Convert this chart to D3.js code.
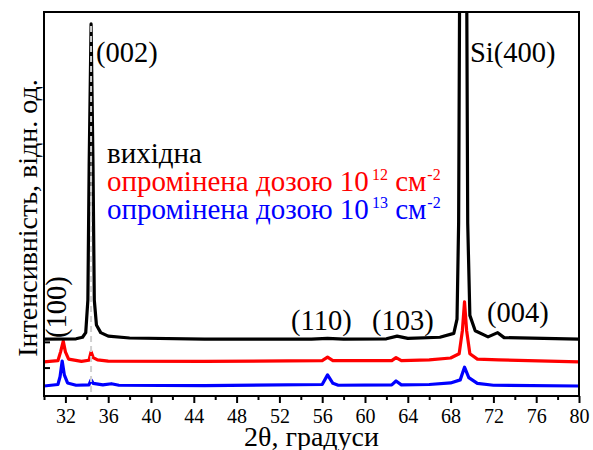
<!DOCTYPE html>
<html>
<head>
<meta charset="utf-8">
<script src="https://d3js.org/d3.v7.min.js"></script>
</head>
<body style="margin:0">
<script>
// 2theta positions and intensities (arb. units, with vertical offsets as plotted)
const blackX = [30, 33.0, 33.6, 33.9, 34.1, 34.22, 34.4, 34.58, 34.7, 34.9, 35.3, 36, 38, 45, 55, 56.5, 58, 62, 63, 64, 67, 68.3, 68.6, 68.75, 68.85, 69.2, 69.5, 69.6, 69.8, 70.3, 71.5, 72.4, 73, 80];
const blackY = [14.8, 14.9, 15.3, 16.5, 25, 60, 96.9, 60, 25, 18.5, 16.5, 15.6, 15.1, 14.8, 14.8, 15.0, 14.8, 14.9, 15.6, 15.0, 15.3, 16.3, 20, 45, 110, 300, 110, 45, 21, 17, 15.4, 16.5, 15.2, 14.8];

const redX = [30, 31.3, 31.55, 31.8, 32.0, 32.3, 33.5, 34.2, 34.4, 34.6, 35.0, 36, 45, 56, 56.5, 57, 62.5, 62.9, 63.4, 66, 68, 68.8, 69.1, 69.3, 69.5, 69.8, 70.5, 72.5, 80];
const redY = [8.9, 9.2, 11.5, 14.3, 11.5, 9.6, 9.0, 9.3, 11.5, 10.0, 9.4, 9.1, 9.0, 9.2, 10.1, 9.2, 9.2, 10.0, 9.2, 9.4, 9.9, 11, 17, 24.5, 17, 11, 9.6, 9.4, 8.9];

const blueX = [30, 31.3, 31.5, 31.7, 31.9, 32.2, 33, 34.2, 34.4, 34.6, 35.5, 36.3, 37, 45, 56, 56.5, 57, 57.5, 62.5, 62.9, 63.4, 66, 68, 68.9, 69.3, 69.7, 70.5, 72, 80];
const blueY = [2.6, 3.0, 5.0, 9.1, 5.5, 3.4, 2.8, 2.9, 4.2, 3.3, 2.9, 3.2, 2.8, 2.7, 3.0, 5.5, 3.3, 2.8, 2.9, 3.9, 2.9, 3.0, 3.4, 4.2, 7.5, 4.8, 3.3, 2.8, 2.6];

const majorTicks = [32, 36, 40, 44, 48, 52, 56, 60, 64, 68, 72, 76, 80];
const minorTicks = [30, 34, 38, 42, 46, 50, 54, 58, 62, 66, 70, 74, 78];
const yTicks = [7.4, 14.1];

const peakLine = 34.4;
const peakTop = 96.9;

const FONT = "'Liberation Serif'";

const width = 593, height = 450;
const mLeft = 44, mRight = 579, mTop = 12, mBottom = 396;

const svg = d3.select("body").append("svg")
  .attr("width", width)
  .attr("height", height);

const x = d3.scaleLinear().domain([30, 80]).range([mLeft, mRight]);
const y = d3.scaleLinear().domain([0, 100]).range([mBottom, mTop]);

svg.append("clipPath").attr("id", "clip")
  .append("rect")
  .attr("x", mLeft).attr("y", mTop)
  .attr("width", mRight - mLeft).attr("height", mBottom - mTop);

const line = d3.line().x(d => x(d[0])).y(d => y(d[1]));

const series = [
  { xs: blueX, ys: blueY, color: "#0000ff" },
  { xs: redX, ys: redY, color: "#ff0000" },
  { xs: blackX, ys: blackY, color: "#000000" }
];

const plot = svg.append("g").attr("clip-path", "url(#clip)");

series.forEach(s => {
  plot.append("path")
    .datum(s.xs.map((v, i) => [v, s.ys[i]]))
    .attr("fill", "none")
    .attr("stroke", s.color)
    .attr("stroke-width", 3.2)
    .attr("stroke-linejoin", "round")
    .attr("stroke-linecap", "round")
    .attr("d", line);
});

// dashed reference line at (002)
plot.append("line")
  .attr("x1", x(peakLine)).attr("x2", x(peakLine))
  .attr("y1", y(peakTop) + 2).attr("y2", mBottom)
  .attr("stroke", "#d0d0d0")
  .attr("stroke-width", 2)
  .attr("stroke-dasharray", "6,4");

// frame
svg.append("rect")
  .attr("x", mLeft).attr("y", mTop)
  .attr("width", mRight - mLeft).attr("height", mBottom - mTop)
  .attr("fill", "none")
  .attr("stroke", "#000")
  .attr("stroke-width", 2);

// x axis
const xAxis = svg.append("g").attr("transform", `translate(0,${mBottom})`)
  .call(d3.axisBottom(x).tickValues(majorTicks).tickSize(7).tickFormat(d3.format("d")));
xAxis.attr("font-family", null).attr("font-size", null);
xAxis.select(".domain").remove();
xAxis.selectAll(".tick line").attr("stroke-width", 2);
xAxis.selectAll(".tick text")
  .style("font-family", FONT)
  .attr("font-size", 20)
  .attr("fill", "#000")
  .attr("dy", null)
  .attr("y", 27);

const xMinor = svg.append("g").attr("transform", `translate(0,${mBottom})`)
  .call(d3.axisBottom(x).tickValues(minorTicks).tickSize(4).tickFormat(""));
xMinor.select(".domain").remove();
xMinor.selectAll(".tick line").attr("stroke-width", 2);

// y axis ticks (inward, no labels)
const yAxis = svg.append("g").attr("transform", `translate(${mLeft},0)`)
  .call(d3.axisRight(y).tickValues(yTicks).tickSize(6).tickFormat(""));
yAxis.select(".domain").remove();
yAxis.selectAll(".tick line").attr("stroke-width", 2);

// axis titles
svg.append("text")
  .style("font-family", FONT).attr("font-size", 28)
  .attr("x", (mLeft + mRight) / 2).attr("y", 446)
  .attr("text-anchor", "middle")
  .text("2θ, градуси");

svg.append("text")
  .style("font-family", FONT).attr("font-size", 28)
  .attr("transform", `translate(37,218) rotate(-90)`)
  .attr("text-anchor", "middle")
  .text("Інтенсивність, відн. од.");

// peak labels
const labels = [
  { t: "(002)", x: 96, y: 62 },
  { t: "Si(400)", x: 470, y: 62 },
  { t: "(110)", x: 291, y: 330 },
  { t: "(103)", x: 372, y: 330 },
  { t: "(004)", x: 487, y: 322 }
];
labels.forEach(l => {
  svg.append("text")
    .style("font-family", FONT).attr("font-size", 28.5)
    .attr("x", l.x).attr("y", l.y).text(l.t);
});
svg.append("text")
  .style("font-family", FONT).attr("font-size", 28.5)
  .attr("transform", "translate(66,338) rotate(-90)")
  .text("(100)");

// legend
const legend = [
  { t: "вихідна", c: "#000", sup: null },
  { t: "опромінена дозою 10", c: "#ff0000", sup: "12" },
  { t: "опромінена дозою 10", c: "#0000ff", sup: "13" }
];
legend.forEach((l, i) => {
  const txt = svg.append("text")
    .style("font-family", FONT).attr("font-size", 29)
    .attr("x", 107).attr("y", 163 + i * 28)
    .attr("fill", l.c);
  txt.append("tspan").text(l.t);
  if (l.sup) {
    txt.append("tspan").attr("font-size", 16).attr("dx", 3).attr("dy", -11).text(l.sup);
    txt.append("tspan").attr("dy", 11).text(" см");
    txt.append("tspan").attr("font-size", 16).attr("dx", 1).attr("dy", -11).text("-2");
  }
});
</script>
</body>
</html>
